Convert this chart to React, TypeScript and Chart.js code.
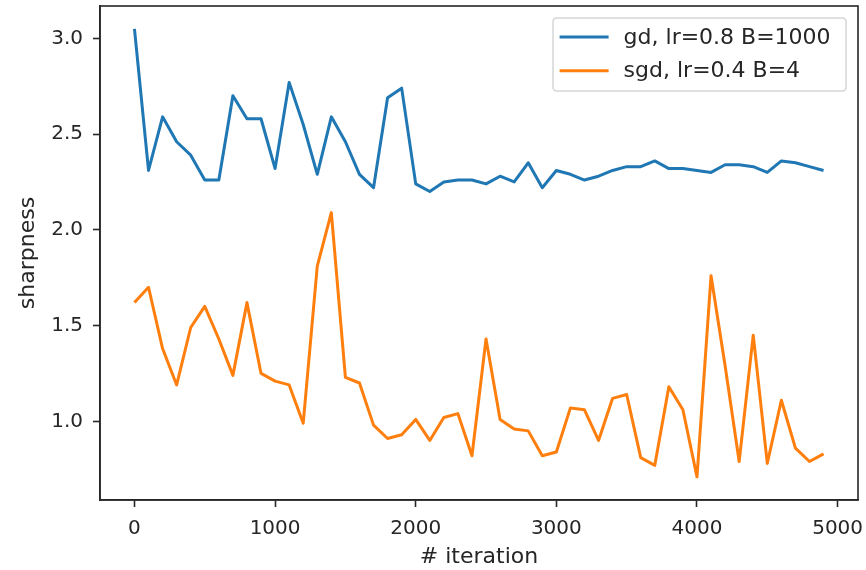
import React, { useEffect, useRef } from "react";
import { Chart, registerables } from "chart.js";

Chart.register(...registerables);

const iterations = [
  0, 100, 200, 300, 400, 500, 600, 700, 800, 900,
  1000, 1100, 1200, 1300, 1400, 1500, 1600, 1700, 1800, 1900,
  2000, 2100, 2200, 2300, 2400, 2500, 2600, 2700, 2800, 2900,
  3000, 3100, 3200, 3300, 3400, 3500, 3600, 3700, 3800, 3900,
  4000, 4100, 4200, 4300, 4400, 4500, 4600, 4700, 4800, 4900,
];

const gdSharpness = [
  3.05, 2.31, 2.59, 2.46, 2.39, 2.26, 2.26, 2.70, 2.58, 2.58,
  2.32, 2.77, 2.55, 2.29, 2.59, 2.46, 2.29, 2.22, 2.69, 2.74,
  2.24, 2.20, 2.25, 2.26, 2.26, 2.24, 2.28, 2.25, 2.35, 2.22,
  2.31, 2.29, 2.26, 2.28, 2.31, 2.33, 2.33, 2.36, 2.32, 2.32,
  2.31, 2.30, 2.34, 2.34, 2.33, 2.30, 2.36, 2.35, 2.33, 2.31,
];

const sgdSharpness = [
  1.62, 1.70, 1.38, 1.19, 1.49, 1.60, 1.43, 1.24, 1.62, 1.25,
  1.21, 1.19, 0.99, 1.81, 2.09, 1.23, 1.20, 0.98, 0.91, 0.93,
  1.01, 0.90, 1.02, 1.04, 0.82, 1.43, 1.01, 0.96, 0.95, 0.82,
  0.84, 1.07, 1.06, 0.90, 1.12, 1.14, 0.81, 0.77, 1.18, 1.06,
  0.71, 1.76, 1.29, 0.79, 1.45, 0.78, 1.11, 0.86, 0.79, 0.83,
];

const seriesLabels = ["gd, lr=0.8 B=1000", "sgd, lr=0.4 B=4"];
const seriesColors = ["#1f77b4", "#ff7f0e"];
const xTicks = [0, 1000, 2000, 3000, 4000, 5000];
const yTicks = [1.0, 1.5, 2.0, 2.5, 3.0];
const xTitle = "# iteration";
const yTitle = "sharpness";

const FONT = "'DejaVu Sans', 'Noto Sans', sans-serif";
const TEXT = "#262626";
const SPINE = "#262626";

const framePlugin = {
  id: "frameAndLegend",
  afterDraw(chart: any) {
    const { ctx, chartArea } = chart;
    ctx.save();
    ctx.strokeStyle = SPINE;
    ctx.lineWidth = 1.6;
    ctx.strokeRect(
      chartArea.left,
      chartArea.top,
      chartArea.right - chartArea.left,
      chartArea.bottom - chartArea.top
    );
    const bw = 293;
    const bh = 73;
    const bx = chartArea.right - 12 - bw;
    const by = chartArea.top + 12;
    const r = 4;
    ctx.beginPath();
    ctx.moveTo(bx + r, by);
    ctx.lineTo(bx + bw - r, by);
    ctx.quadraticCurveTo(bx + bw, by, bx + bw, by + r);
    ctx.lineTo(bx + bw, by + bh - r);
    ctx.quadraticCurveTo(bx + bw, by + bh, bx + bw - r, by + bh);
    ctx.lineTo(bx + r, by + bh);
    ctx.quadraticCurveTo(bx, by + bh, bx, by + bh - r);
    ctx.lineTo(bx, by + r);
    ctx.quadraticCurveTo(bx, by, bx + r, by);
    ctx.closePath();
    ctx.fillStyle = "rgba(255,255,255,0.8)";
    ctx.fill();
    ctx.strokeStyle = "#d6d6d6";
    ctx.lineWidth = 1.5;
    ctx.stroke();
    const rows = [by + 19, by + 52.7];
    chart.data.datasets.forEach((ds: any, i: number) => {
      const y = rows[i];
      ctx.beginPath();
      ctx.moveTo(bx + 6.6, y);
      ctx.lineTo(bx + 55.6, y);
      ctx.strokeStyle = ds.borderColor;
      ctx.lineWidth = 3;
      ctx.stroke();
      ctx.fillStyle = TEXT;
      ctx.font = `22px ${FONT}`;
      ctx.textAlign = "left";
      ctx.textBaseline = "middle";
      ctx.fillText(ds.label, bx + 70.6, y + 1);
    });
    ctx.restore();
  },
};

export default function App() {
  const canvasRef = useRef<HTMLCanvasElement | null>(null);

  useEffect(() => {
    const canvas = canvasRef.current;
    if (!canvas) return;
    const chart = new Chart(canvas, {
      type: "line",
      data: {
        datasets: [
          {
            label: seriesLabels[0],
            data: iterations.map((x, i) => ({ x, y: gdSharpness[i] })),
            borderColor: seriesColors[0],
            backgroundColor: seriesColors[0],
            borderWidth: 3,
            borderJoinStyle: "round",
            pointRadius: 0,
            tension: 0,
            fill: false,
          },
          {
            label: seriesLabels[1],
            data: iterations.map((x, i) => ({ x, y: sgdSharpness[i] })),
            borderColor: seriesColors[1],
            backgroundColor: seriesColors[1],
            borderWidth: 3,
            borderJoinStyle: "round",
            pointRadius: 0,
            tension: 0,
            fill: false,
          },
        ],
      },
      options: {
        responsive: false,
        animation: false,
        layout: { padding: { left: 0, right: 8, top: 6, bottom: 0 } },
        plugins: {
          legend: { display: false },
          tooltip: { enabled: false },
        },
        scales: {
          x: {
            type: "linear",
            min: -245,
            max: 5145,
            afterBuildTicks: (s: any) => {
              s.ticks = xTicks.map((v) => ({ value: v }));
            },
            afterFit: (s: any) => {
              s.height = 70;
              s.paddingLeft = 0;
              s.paddingRight = 0;
            },
            ticks: {
              autoSkip: false,
              maxRotation: 0,
              padding: 10,
              color: TEXT,
              font: { family: FONT, size: 20 },
              callback: (v: any) => String(v),
            },
            grid: {
              display: true,
              drawOnChartArea: false,
              drawTicks: true,
              tickLength: 7,
              tickWidth: 1.6,
              tickColor: SPINE,
            },
            border: { display: true, color: SPINE, width: 1.6 },
            title: {
              display: true,
              text: xTitle,
              color: TEXT,
              font: { family: FONT, size: 22, lineHeight: 0.9 },
              padding: { top: 0, bottom: 3 },
            },
          },
          y: {
            type: "linear",
            min: 0.589,
            max: 3.169,
            afterBuildTicks: (s: any) => {
              s.ticks = yTicks.map((v) => ({ value: v }));
            },
            afterFit: (s: any) => {
              s.width = 100;
              s.paddingTop = 0;
              s.paddingBottom = 0;
            },
            ticks: {
              autoSkip: false,
              padding: 10,
              color: TEXT,
              font: { family: FONT, size: 20 },
              callback: (v: any) => Number(v).toFixed(1),
            },
            grid: {
              display: true,
              drawOnChartArea: false,
              drawTicks: true,
              tickLength: 7,
              tickWidth: 1.6,
              tickColor: SPINE,
            },
            border: { display: true, color: SPINE, width: 1.6 },
            title: {
              display: true,
              text: yTitle,
              color: TEXT,
              font: { family: FONT, size: 22, lineHeight: 1.2 },
              padding: { top: 15, bottom: 0 },
            },
          },
        },
      },
      plugins: [framePlugin],
    });
    return () => chart.destroy();
  }, []);

  return (
    <div
      style={{
        position: "fixed",
        left: 0,
        top: 0,
        width: 866,
        height: 570,
        background: "#fff",
      }}
    >
      <canvas
        ref={canvasRef}
        width={866}
        height={570}
        style={{ display: "block", width: 866, height: 570 }}
      />
    </div>
  );
}
